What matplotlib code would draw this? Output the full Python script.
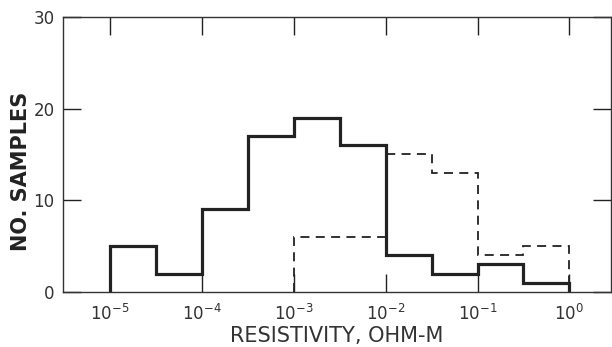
import matplotlib
matplotlib.use("Agg")
import matplotlib.pyplot as plt
import numpy as np

# half-decade bins, log10 of resistivity (ohm-m)
solid_edges_log = [-5, -4.5, -4, -3.5, -3, -2.5, -2, -1.5, -1, -0.5, 0]
solid_counts = [5, 2, 9, 17, 19, 16, 4, 2, 3, 1]

dashed_edges_log = [-3, -2, -1.5, -1, -0.5, 0]
dashed_counts = [6, 15, 13, 4, 5]

xtick_exps = [-5, -4, -3, -2, -1, 0]
yticks = [0, 10, 20, 30]

plt.rcParams.update({"font.family": "DejaVu Sans", "mathtext.default": "regular",
                     "axes.linewidth": 1.0})

fig = plt.figure(figsize=(6.12, 3.47), dpi=100)
ax = fig.add_axes([0.103, 0.159, 0.895, 0.792])

ink = "#222222"
ax.stairs(solid_counts, 10.0 ** np.array(solid_edges_log), baseline=0,
          color=ink, lw=2.3)
ax.stairs(dashed_counts, 10.0 ** np.array(dashed_edges_log), baseline=0,
          color=ink, lw=1.3, linestyle=(0, (5, 3.5)))

ax.set_xscale("log")
ax.set_xlim(10 ** -5.51, 10 ** 0.45)
ax.set_ylim(0, 30)
ax.set_xticks([10.0 ** e for e in xtick_exps])
ax.set_xticklabels([f"$10^{{{e}}}$" for e in xtick_exps], fontsize=12)
ax.minorticks_off()
ax.set_yticks(yticks)
ax.set_yticklabels([str(v) for v in yticks], fontsize=12)
ax.tick_params(direction="in", length=13, width=1, colors=ink,
               top=True, right=True, labelcolor="#333333")
ax.tick_params(axis="x", pad=9)
ax.tick_params(axis="y", pad=6)
for s in ax.spines.values():
    s.set_color("#333333")

ax.set_xlabel("RESISTIVITY, OHM-M", fontsize=15, color="#333333", labelpad=1)
ax.set_ylabel("NO. SAMPLES", fontsize=15, color="#222222", fontweight="bold")
ax.yaxis.set_label_coords(-0.058, 0.44)

fig.savefig("out.png", dpi=100)
